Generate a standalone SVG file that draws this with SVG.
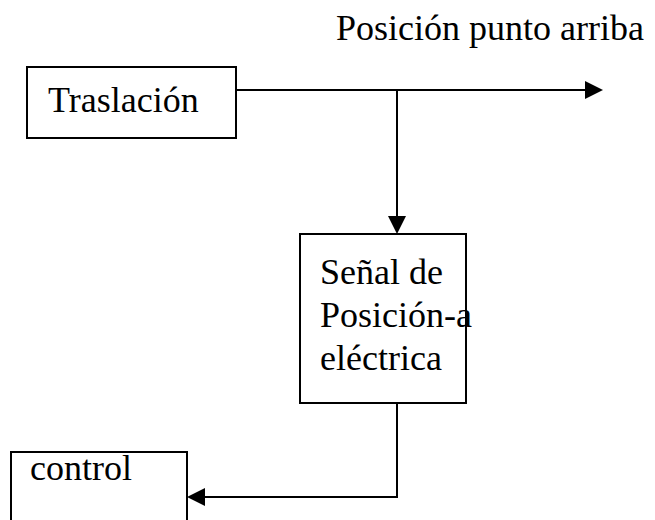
<svg xmlns="http://www.w3.org/2000/svg" width="655" height="520" viewBox="0 0 655 520">
<defs>
<style>
.box{fill:#fff;stroke:#000;stroke-width:2}
.t{font-family:"Liberation Serif","Times New Roman",serif;font-size:36px;fill:#000}
.c{fill:none;stroke:#000;stroke-width:2}
</style>
</defs>
<rect width="655" height="520" fill="#fff"/>
<text class="t" x="336" y="40">Posición punto arriba</text>
<g id="traslacion">
<rect class="box" x="27" y="67" width="209" height="71"/>
<text class="t" x="48" y="112">Traslación</text>
</g>
<g id="senal">
<rect class="box" x="300" y="234" width="166" height="169"/>
<text class="t" x="320" y="284">Señal de</text>
<text class="t" x="320" y="327">Posición-a</text>
<text class="t" x="320" y="370">eléctrica</text>
</g>
<g id="control">
<rect class="box" x="11" y="452" width="176" height="80"/>
<text class="t" x="30" y="480">control</text>
</g>
<g id="connectors">
<line class="c" x1="236" y1="90" x2="585" y2="90"/>
<path d="M585,81 L603,90 L585,99 z" fill="#000"/>
<line class="c" x1="397" y1="90" x2="397" y2="216"/>
<path d="M388,216 L397,234 L406,216 z" fill="#000"/>
<polyline class="c" points="397,403 397,497 205,497"/>
<path d="M205,488 L187,497 L205,506 z" fill="#000"/>
</g>
</svg>
